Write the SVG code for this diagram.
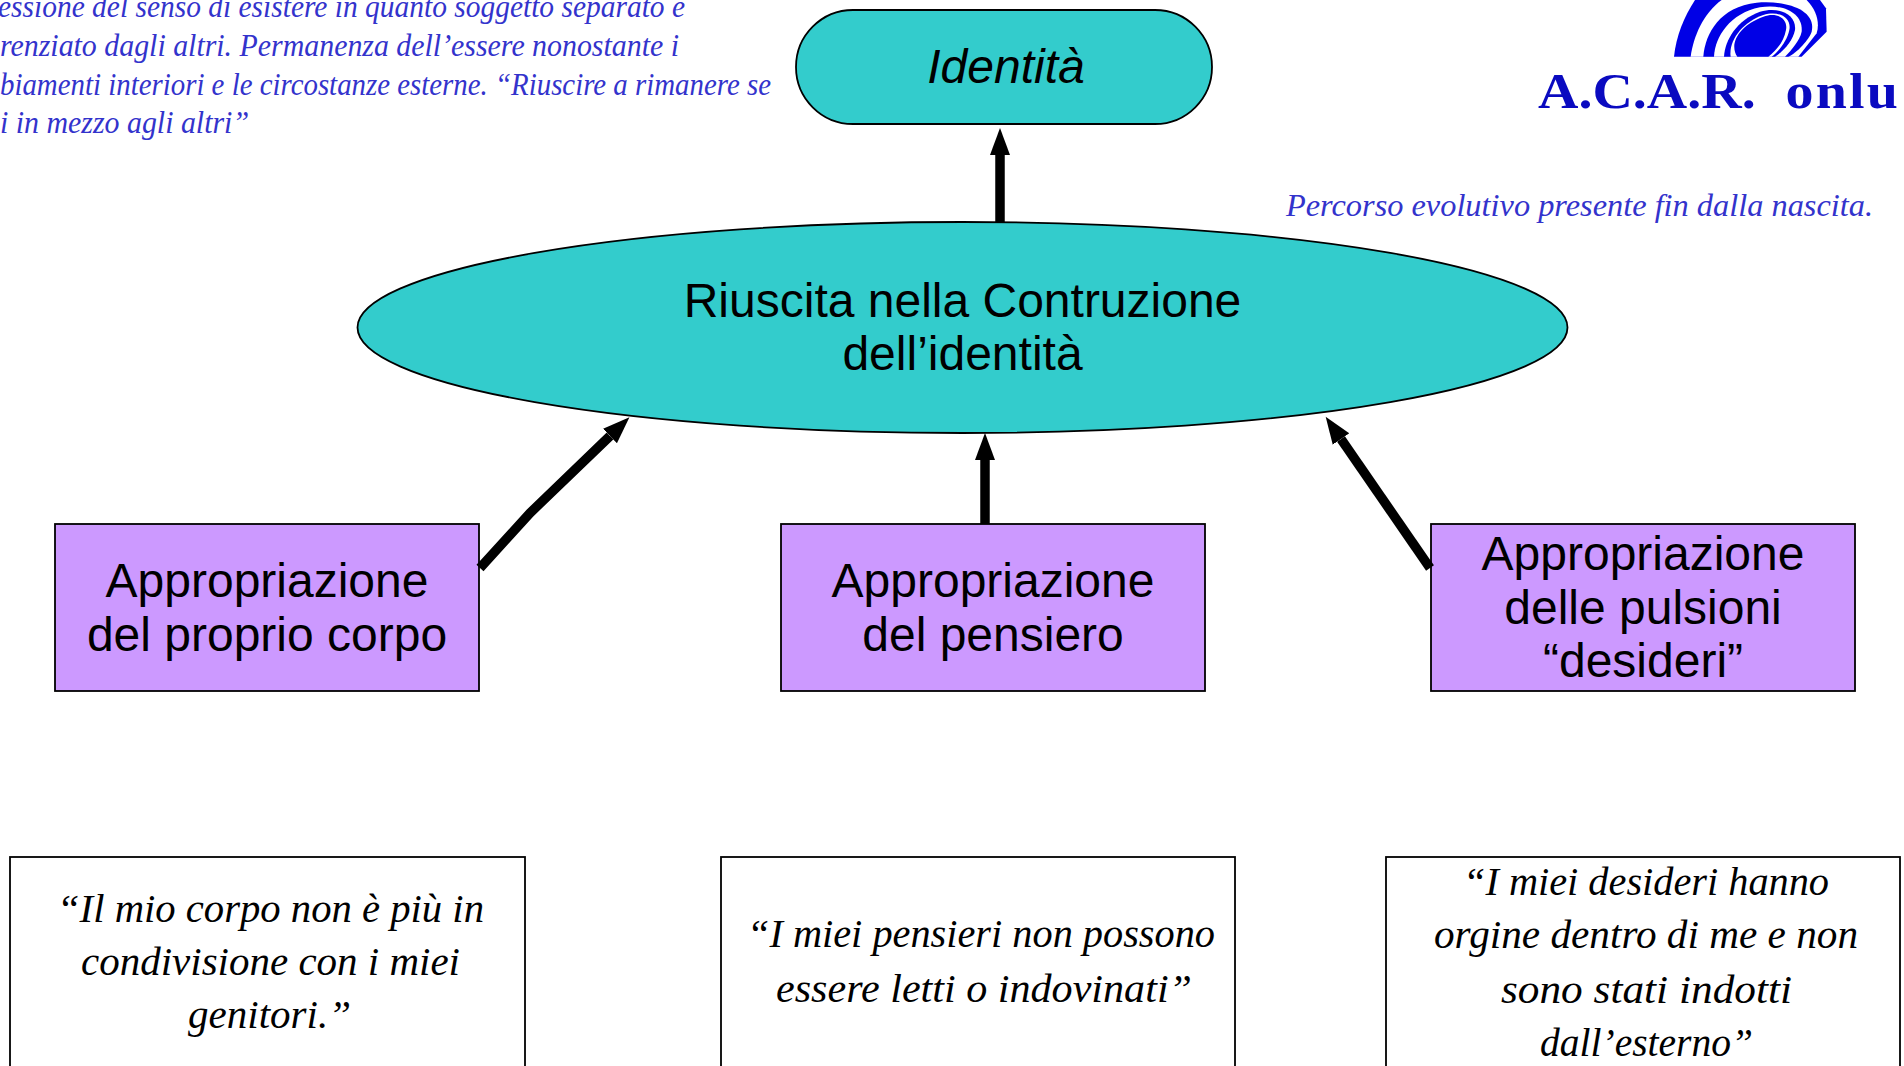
<svg xmlns="http://www.w3.org/2000/svg" width="1904" height="1066" viewBox="0 0 1904 1066">
<style>
.teal{fill:#33cccc;stroke:#000;stroke-width:1.8}
.purple{fill:#cc99ff;stroke:#000;stroke-width:1.8}
.quote{fill:#fff;stroke:#000;stroke-width:1.8}
.sans{font-family:"Liberation Sans",Arial,sans-serif;font-size:48px;fill:#000;text-anchor:middle}
.script{font-family:"Liberation Serif","Times New Roman",serif;font-style:italic}
.note{font-size:31px;fill:#3333cc}
.say{font-size:40px;fill:#000}
.arrow{fill:none;stroke:#000;stroke-width:9.5;marker-end:url(#head)}
.lb{fill:#0000e6}
.lw{fill:#fff}
</style>
<defs>
<marker id="head" markerUnits="userSpaceOnUse" markerWidth="28" markerHeight="22" refX="0" refY="10" orient="auto" viewBox="0 0 28 20">
<path d="M0 0L27 10L0 20Z" fill="#000"/>
</marker>
</defs>
<rect width="1904" height="1066" fill="#fff"/>
<g id="note-identita">
<text class="script note" x="-2" y="17" textLength="687" lengthAdjust="spacingAndGlyphs">essione del senso di esistere in quanto soggetto separato e</text>
<text class="script note" x="0" y="56" textLength="679" lengthAdjust="spacingAndGlyphs">renziato dagli altri. Permanenza dell’essere nonostante i</text>
<text class="script note" x="0" y="95" textLength="771" lengthAdjust="spacingAndGlyphs">biamenti interiori e le circostanze esterne. “Riuscire a rimanere se</text>
<text class="script note" x="0" y="133" textLength="249" lengthAdjust="spacingAndGlyphs">i in mezzo agli altri”</text>
</g>
<g id="logo">
<g transform="translate(1660 0) scale(.3333)">
<path class="lb" d="M42 170C48 110 72 50 105 0L480 0L498 25L500 95L425 170Z"/>
<path class="lw" d="M92 170C100 110 130 40 185 0L440 0C470 30 480 70 470 100L415 170Z"/>
<path class="lb" d="M130 170C135 100 180 20 290 8C380 0 470 30 455 95C450 115 410 160 385 170Z"/>
<path class="lw" d="M162 170C165 110 210 40 300 22C370 10 430 40 425 95C420 120 395 150 375 170Z"/>
<path class="lb" d="M192 170C195 120 230 60 300 35C360 18 410 45 405 90C400 120 370 155 345 170Z"/>
<path class="lw" d="M212 170C205 120 250 65 310 45C360 30 395 55 388 90C382 120 360 150 335 170Z"/>
<path class="lb" d="M232 170C205 130 240 75 310 50C350 35 385 55 378 90C372 125 350 150 325 170Z"/>
</g>
<text transform="translate(1538 108) scale(1.12 1)" x="0" y="0" font-family="'Liberation Serif','Times New Roman',serif" font-weight="700" font-size="50" fill="#0a0ac0" word-spacing="14">A.C.A.R. <tspan letter-spacing="2">onlu</tspan></text>
</g>
<g id="note-percorso">
<text class="script note" x="1286" y="216" textLength="587" lengthAdjust="spacingAndGlyphs">Percorso evolutivo presente fin dalla nascita.</text>
</g>
<g id="identita">
<rect class="teal" x="796" y="10" width="416" height="114" rx="57" ry="57"/>
<text class="sans" x="1006" y="83" font-style="italic">Identità</text>
</g>
<g id="riuscita">
<ellipse class="teal" cx="962.5" cy="327.5" rx="605" ry="105.5"/>
<text class="sans" x="962.5" y="317">Riuscita nella Contruzione</text>
<text class="sans" x="962.5" y="370">dell’identità</text>
</g>
<g id="corpo">
<rect class="purple" x="55" y="524" width="424" height="167"/>
<text class="sans" x="267" y="597">Appropriazione</text>
<text class="sans" x="267" y="651">del proprio corpo</text>
</g>
<g id="pensiero">
<rect class="purple" x="781" y="524" width="424" height="167"/>
<text class="sans" x="993" y="597">Appropriazione</text>
<text class="sans" x="993" y="651">del pensiero</text>
</g>
<g id="pulsioni">
<rect class="purple" x="1431" y="524" width="424" height="167"/>
<text class="sans" x="1643" y="570">Appropriazione</text>
<text class="sans" x="1643" y="624">delle pulsioni</text>
<text class="sans" x="1643" y="677">“desideri”</text>
</g>
<g id="quote-corpo">
<rect class="quote" x="10" y="857" width="515" height="220"/>
<text class="script say" x="57" y="922" textLength="427" lengthAdjust="spacingAndGlyphs">“Il mio corpo non è più in</text>
<text class="script say" x="81" y="975" textLength="379" lengthAdjust="spacingAndGlyphs">condivisione con i miei</text>
<text class="script say" x="188" y="1028" textLength="163" lengthAdjust="spacingAndGlyphs">genitori.”</text>
</g>
<g id="quote-pensieri">
<rect class="quote" x="721" y="857" width="514" height="220"/>
<text class="script say" x="747" y="947" textLength="468" lengthAdjust="spacingAndGlyphs">“I miei pensieri non possono</text>
<text class="script say" x="776" y="1002" textLength="416" lengthAdjust="spacingAndGlyphs">essere letti o indovinati”</text>
</g>
<g id="quote-desideri">
<rect class="quote" x="1386" y="857" width="514" height="220"/>
<text class="script say" x="1463" y="895" textLength="366" lengthAdjust="spacingAndGlyphs">“I miei desideri hanno</text>
<text class="script say" x="1434" y="948" textLength="424" lengthAdjust="spacingAndGlyphs">orgine dentro di me e non</text>
<text class="script say" x="1501" y="1003" textLength="291" lengthAdjust="spacingAndGlyphs">sono stati indotti</text>
<text class="script say" x="1540" y="1056" textLength="213" lengthAdjust="spacingAndGlyphs">dall’esterno”</text>
</g>
<g id="connectors">
<path class="arrow" d="M1000 222V155"/>
<path class="arrow" d="M480 568L530 513L610 436"/>
<path class="arrow" d="M985 524V460"/>
<path class="arrow" d="M1430 568L1341 439"/>
</g>
</svg>
